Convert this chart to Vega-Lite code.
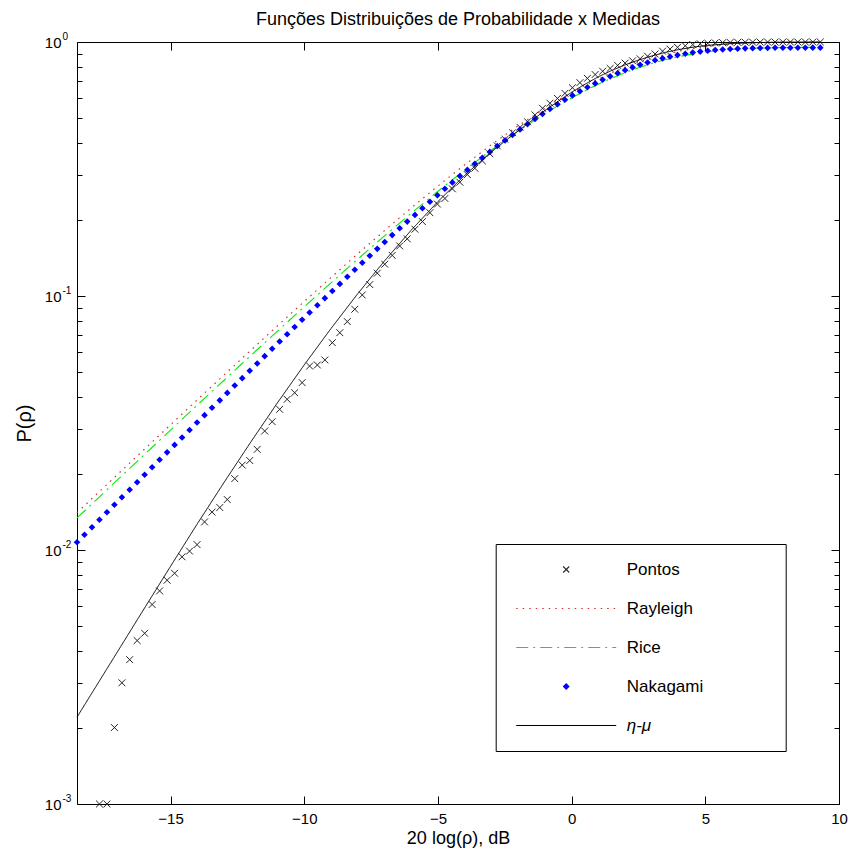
{
  "$schema": "https://vega.github.io/schema/vega-lite/v6.json",
  "width": 762,
  "height": 762,
  "autosize": {"type": "none"},
  "padding": {"left": 77, "top": 42, "right": 11, "bottom": 55},
  "background": "white",
  "title": {
    "text": "Funções Distribuições de Probabilidade x Medidas",
    "fontSize": 18,
    "fontWeight": "normal",
    "font": "Liberation Sans",
    "color": "#000",
    "offset": 2
  },
  "datasets": {
    "pontos": [
      {"x": -17.66, "p": 0.001, "serie": "Pontos"},
      {"x": -17.38, "p": 0.001, "serie": "Pontos"},
      {"x": -17.10, "p": 0.002, "serie": "Pontos"},
      {"x": -16.82, "p": 0.003, "serie": "Pontos"},
      {"x": -16.53, "p": 0.0037, "serie": "Pontos"},
      {"x": -16.25, "p": 0.0044, "serie": "Pontos"},
      {"x": -15.97, "p": 0.0047, "serie": "Pontos"},
      {"x": -15.69, "p": 0.0061, "serie": "Pontos"},
      {"x": -15.41, "p": 0.0069, "serie": "Pontos"},
      {"x": -15.13, "p": 0.0076, "serie": "Pontos"},
      {"x": -14.85, "p": 0.0081, "serie": "Pontos"},
      {"x": -14.57, "p": 0.0094, "serie": "Pontos"},
      {"x": -14.29, "p": 0.0099, "serie": "Pontos"},
      {"x": -14.01, "p": 0.0105, "serie": "Pontos"},
      {"x": -13.73, "p": 0.0129, "serie": "Pontos"},
      {"x": -13.45, "p": 0.0141, "serie": "Pontos"},
      {"x": -13.16, "p": 0.0147, "serie": "Pontos"},
      {"x": -12.88, "p": 0.0158, "serie": "Pontos"},
      {"x": -12.60, "p": 0.0191, "serie": "Pontos"},
      {"x": -12.32, "p": 0.0216, "serie": "Pontos"},
      {"x": -12.04, "p": 0.0225, "serie": "Pontos"},
      {"x": -11.76, "p": 0.0249, "serie": "Pontos"},
      {"x": -11.48, "p": 0.0294, "serie": "Pontos"},
      {"x": -11.20, "p": 0.0320, "serie": "Pontos"},
      {"x": -10.92, "p": 0.0358, "serie": "Pontos"},
      {"x": -10.64, "p": 0.0392, "serie": "Pontos"},
      {"x": -10.36, "p": 0.0416, "serie": "Pontos"},
      {"x": -10.08, "p": 0.0456, "serie": "Pontos"},
      {"x": -9.80, "p": 0.0530, "serie": "Pontos"},
      {"x": -9.51, "p": 0.0535, "serie": "Pontos"},
      {"x": -9.23, "p": 0.0560, "serie": "Pontos"},
      {"x": -8.95, "p": 0.0655, "serie": "Pontos"},
      {"x": -8.67, "p": 0.0717, "serie": "Pontos"},
      {"x": -8.39, "p": 0.0793, "serie": "Pontos"},
      {"x": -8.11, "p": 0.0887, "serie": "Pontos"},
      {"x": -7.83, "p": 0.1009, "serie": "Pontos"},
      {"x": -7.55, "p": 0.1109, "serie": "Pontos"},
      {"x": -7.27, "p": 0.1230, "serie": "Pontos"},
      {"x": -6.99, "p": 0.1334, "serie": "Pontos"},
      {"x": -6.71, "p": 0.1445, "serie": "Pontos"},
      {"x": -6.43, "p": 0.1574, "serie": "Pontos"},
      {"x": -6.15, "p": 0.1679, "serie": "Pontos"},
      {"x": -5.86, "p": 0.1832, "serie": "Pontos"},
      {"x": -5.58, "p": 0.1963, "serie": "Pontos"},
      {"x": -5.30, "p": 0.2128, "serie": "Pontos"},
      {"x": -5.02, "p": 0.2301, "serie": "Pontos"},
      {"x": -4.74, "p": 0.2421, "serie": "Pontos"},
      {"x": -4.46, "p": 0.2642, "serie": "Pontos"},
      {"x": -4.18, "p": 0.2805, "serie": "Pontos"},
      {"x": -3.90, "p": 0.3006, "serie": "Pontos"},
      {"x": -3.62, "p": 0.3184, "serie": "Pontos"},
      {"x": -3.34, "p": 0.3404, "serie": "Pontos"},
      {"x": -3.06, "p": 0.3631, "serie": "Pontos"},
      {"x": -2.78, "p": 0.3899, "serie": "Pontos"},
      {"x": -2.49, "p": 0.4140, "serie": "Pontos"},
      {"x": -2.21, "p": 0.4395, "serie": "Pontos"},
      {"x": -1.93, "p": 0.4613, "serie": "Pontos"},
      {"x": -1.65, "p": 0.4853, "serie": "Pontos"},
      {"x": -1.37, "p": 0.5164, "serie": "Pontos"},
      {"x": -1.09, "p": 0.5483, "serie": "Pontos"},
      {"x": -0.81, "p": 0.5741, "serie": "Pontos"},
      {"x": -0.53, "p": 0.5998, "serie": "Pontos"},
      {"x": -0.25, "p": 0.6281, "serie": "Pontos"},
      {"x": 0.03, "p": 0.6607, "serie": "Pontos"},
      {"x": 0.31, "p": 0.6918, "serie": "Pontos"},
      {"x": 0.59, "p": 0.7194, "serie": "Pontos"},
      {"x": 0.88, "p": 0.7447, "serie": "Pontos"},
      {"x": 1.16, "p": 0.7674, "serie": "Pontos"},
      {"x": 1.44, "p": 0.7870, "serie": "Pontos"},
      {"x": 1.72, "p": 0.8091, "serie": "Pontos"},
      {"x": 2.00, "p": 0.8260, "serie": "Pontos"},
      {"x": 2.28, "p": 0.8433, "serie": "Pontos"},
      {"x": 2.56, "p": 0.8590, "serie": "Pontos"},
      {"x": 2.84, "p": 0.8790, "serie": "Pontos"},
      {"x": 3.12, "p": 0.8974, "serie": "Pontos"},
      {"x": 3.40, "p": 0.9204, "serie": "Pontos"},
      {"x": 3.68, "p": 0.9376, "serie": "Pontos"},
      {"x": 3.96, "p": 0.9528, "serie": "Pontos"},
      {"x": 4.25, "p": 0.9661, "serie": "Pontos"},
      {"x": 4.53, "p": 0.9772, "serie": "Pontos"},
      {"x": 4.81, "p": 0.9840, "serie": "Pontos"},
      {"x": 5.09, "p": 0.9886, "serie": "Pontos"},
      {"x": 5.37, "p": 0.9920, "serie": "Pontos"},
      {"x": 5.65, "p": 0.9943, "serie": "Pontos"},
      {"x": 5.93, "p": 0.9959, "serie": "Pontos"},
      {"x": 6.21, "p": 0.9970, "serie": "Pontos"},
      {"x": 6.49, "p": 0.9979, "serie": "Pontos"},
      {"x": 6.77, "p": 0.9985, "serie": "Pontos"},
      {"x": 7.05, "p": 0.9989, "serie": "Pontos"},
      {"x": 7.33, "p": 0.9992, "serie": "Pontos"},
      {"x": 7.61, "p": 0.9994, "serie": "Pontos"},
      {"x": 7.90, "p": 0.9996, "serie": "Pontos"},
      {"x": 8.18, "p": 0.9997, "serie": "Pontos"},
      {"x": 8.46, "p": 0.9998, "serie": "Pontos"},
      {"x": 8.74, "p": 0.9999, "serie": "Pontos"},
      {"x": 9.02, "p": 0.9999, "serie": "Pontos"},
      {"x": 9.30, "p": 1.0, "serie": "Pontos"}
    ],
    "rayleigh": [
      {"x": -18.5, "p": 0.01403, "serie": "Rayleigh"},
      {"x": -18, "p": 0.01572, "serie": "Rayleigh"},
      {"x": -17, "p": 0.01976, "serie": "Rayleigh"},
      {"x": -16, "p": 0.02481, "serie": "Rayleigh"},
      {"x": -15, "p": 0.03113, "serie": "Rayleigh"},
      {"x": -14, "p": 0.03903, "serie": "Rayleigh"},
      {"x": -13, "p": 0.04888, "serie": "Rayleigh"},
      {"x": -12, "p": 0.06115, "serie": "Rayleigh"},
      {"x": -11, "p": 0.07636, "serie": "Rayleigh"},
      {"x": -10, "p": 0.09516, "serie": "Rayleigh"},
      {"x": -9, "p": 0.1183, "serie": "Rayleigh"},
      {"x": -8, "p": 0.1466, "serie": "Rayleigh"},
      {"x": -7, "p": 0.1809, "serie": "Rayleigh"},
      {"x": -6, "p": 0.2221, "serie": "Rayleigh"},
      {"x": -5, "p": 0.2711, "serie": "Rayleigh"},
      {"x": -4, "p": 0.3284, "serie": "Rayleigh"},
      {"x": -3, "p": 0.3942, "serie": "Rayleigh"},
      {"x": -2, "p": 0.4679, "serie": "Rayleigh"},
      {"x": -1, "p": 0.5481, "serie": "Rayleigh"},
      {"x": -0.5, "p": 0.5899, "serie": "Rayleigh"},
      {"x": 0, "p": 0.6321, "serie": "Rayleigh"},
      {"x": 0.5, "p": 0.6744, "serie": "Rayleigh"},
      {"x": 1, "p": 0.7160, "serie": "Rayleigh"},
      {"x": 1.5, "p": 0.7565, "serie": "Rayleigh"},
      {"x": 2, "p": 0.7950, "serie": "Rayleigh"},
      {"x": 2.5, "p": 0.8310, "serie": "Rayleigh"},
      {"x": 3, "p": 0.8640, "serie": "Rayleigh"},
      {"x": 3.5, "p": 0.8934, "serie": "Rayleigh"},
      {"x": 4, "p": 0.9189, "serie": "Rayleigh"},
      {"x": 4.5, "p": 0.9403, "serie": "Rayleigh"},
      {"x": 5, "p": 0.9577, "serie": "Rayleigh"},
      {"x": 5.5, "p": 0.9712, "serie": "Rayleigh"},
      {"x": 6, "p": 0.9813, "serie": "Rayleigh"},
      {"x": 6.5, "p": 0.9885, "serie": "Rayleigh"},
      {"x": 7, "p": 0.9933, "serie": "Rayleigh"},
      {"x": 8, "p": 0.9982, "serie": "Rayleigh"},
      {"x": 9, "p": 0.9996, "serie": "Rayleigh"},
      {"x": 9.3, "p": 0.9998, "serie": "Rayleigh"}
    ],
    "rice": [
      {"x": -18.5, "p": 0.01337, "serie": "Rice"},
      {"x": -18, "p": 0.01498, "serie": "Rice"},
      {"x": -17, "p": 0.01883, "serie": "Rice"},
      {"x": -16, "p": 0.02364, "serie": "Rice"},
      {"x": -15, "p": 0.02967, "serie": "Rice"},
      {"x": -14, "p": 0.03720, "serie": "Rice"},
      {"x": -13, "p": 0.04658, "serie": "Rice"},
      {"x": -12, "p": 0.05828, "serie": "Rice"},
      {"x": -11, "p": 0.07277, "serie": "Rice"},
      {"x": -10, "p": 0.09069, "serie": "Rice"},
      {"x": -9, "p": 0.1127, "serie": "Rice"},
      {"x": -8, "p": 0.1397, "serie": "Rice"},
      {"x": -7, "p": 0.1724, "serie": "Rice"},
      {"x": -6, "p": 0.2117, "serie": "Rice"},
      {"x": -5, "p": 0.2584, "serie": "Rice"},
      {"x": -4, "p": 0.3130, "serie": "Rice"},
      {"x": -3, "p": 0.3757, "serie": "Rice"},
      {"x": -2, "p": 0.4459, "serie": "Rice"},
      {"x": -1, "p": 0.5223, "serie": "Rice"},
      {"x": -0.5, "p": 0.5622, "serie": "Rice"},
      {"x": 0, "p": 0.6024, "serie": "Rice"},
      {"x": 0.5, "p": 0.6427, "serie": "Rice"},
      {"x": 1, "p": 0.6823, "serie": "Rice"},
      {"x": 1.5, "p": 0.7209, "serie": "Rice"},
      {"x": 2, "p": 0.7576, "serie": "Rice"},
      {"x": 2.5, "p": 0.7919, "serie": "Rice"},
      {"x": 3, "p": 0.8234, "serie": "Rice"},
      {"x": 3.5, "p": 0.8514, "serie": "Rice"},
      {"x": 4, "p": 0.8757, "serie": "Rice"},
      {"x": 4.5, "p": 0.8961, "serie": "Rice"},
      {"x": 5, "p": 0.9127, "serie": "Rice"},
      {"x": 5.5, "p": 0.9256, "serie": "Rice"},
      {"x": 6, "p": 0.9352, "serie": "Rice"},
      {"x": 6.5, "p": 0.9420, "serie": "Rice"},
      {"x": 7, "p": 0.9466, "serie": "Rice"},
      {"x": 8, "p": 0.9513, "serie": "Rice"},
      {"x": 9, "p": 0.9526, "serie": "Rice"},
      {"x": 9.3, "p": 0.9528, "serie": "Rice"}
    ],
    "nakagami": [
      {"x": -18.50, "p": 0.01073, "serie": "Nakagami"},
      {"x": -18.22, "p": 0.01148, "serie": "Nakagami"},
      {"x": -17.94, "p": 0.01229, "serie": "Nakagami"},
      {"x": -17.66, "p": 0.01316, "serie": "Nakagami"},
      {"x": -17.38, "p": 0.01408, "serie": "Nakagami"},
      {"x": -17.10, "p": 0.01508, "serie": "Nakagami"},
      {"x": -16.82, "p": 0.01613, "serie": "Nakagami"},
      {"x": -16.53, "p": 0.01727, "serie": "Nakagami"},
      {"x": -16.25, "p": 0.01848, "serie": "Nakagami"},
      {"x": -15.97, "p": 0.01978, "serie": "Nakagami"},
      {"x": -15.69, "p": 0.02117, "serie": "Nakagami"},
      {"x": -15.41, "p": 0.02265, "serie": "Nakagami"},
      {"x": -15.13, "p": 0.02424, "serie": "Nakagami"},
      {"x": -14.85, "p": 0.02593, "serie": "Nakagami"},
      {"x": -14.57, "p": 0.02774, "serie": "Nakagami"},
      {"x": -14.29, "p": 0.02968, "serie": "Nakagami"},
      {"x": -14.01, "p": 0.03175, "serie": "Nakagami"},
      {"x": -13.73, "p": 0.03396, "serie": "Nakagami"},
      {"x": -13.45, "p": 0.03632, "serie": "Nakagami"},
      {"x": -13.16, "p": 0.03884, "serie": "Nakagami"},
      {"x": -12.88, "p": 0.04154, "serie": "Nakagami"},
      {"x": -12.60, "p": 0.04441, "serie": "Nakagami"},
      {"x": -12.32, "p": 0.04748, "serie": "Nakagami"},
      {"x": -12.04, "p": 0.05076, "serie": "Nakagami"},
      {"x": -11.76, "p": 0.05425, "serie": "Nakagami"},
      {"x": -11.48, "p": 0.05798, "serie": "Nakagami"},
      {"x": -11.20, "p": 0.06196, "serie": "Nakagami"},
      {"x": -10.92, "p": 0.06619, "serie": "Nakagami"},
      {"x": -10.64, "p": 0.07071, "serie": "Nakagami"},
      {"x": -10.36, "p": 0.07552, "serie": "Nakagami"},
      {"x": -10.08, "p": 0.08064, "serie": "Nakagami"},
      {"x": -9.80, "p": 0.08609, "serie": "Nakagami"},
      {"x": -9.51, "p": 0.09190, "serie": "Nakagami"},
      {"x": -9.23, "p": 0.09806, "serie": "Nakagami"},
      {"x": -8.95, "p": 0.1046, "serie": "Nakagami"},
      {"x": -8.67, "p": 0.1116, "serie": "Nakagami"},
      {"x": -8.39, "p": 0.1190, "serie": "Nakagami"},
      {"x": -8.11, "p": 0.1268, "serie": "Nakagami"},
      {"x": -7.83, "p": 0.1352, "serie": "Nakagami"},
      {"x": -7.55, "p": 0.1440, "serie": "Nakagami"},
      {"x": -7.27, "p": 0.1533, "serie": "Nakagami"},
      {"x": -6.99, "p": 0.1632, "serie": "Nakagami"},
      {"x": -6.71, "p": 0.1737, "serie": "Nakagami"},
      {"x": -6.43, "p": 0.1847, "serie": "Nakagami"},
      {"x": -6.15, "p": 0.1963, "serie": "Nakagami"},
      {"x": -5.86, "p": 0.2086, "serie": "Nakagami"},
      {"x": -5.58, "p": 0.2216, "serie": "Nakagami"},
      {"x": -5.30, "p": 0.2351, "serie": "Nakagami"},
      {"x": -5.02, "p": 0.2494, "serie": "Nakagami"},
      {"x": -4.74, "p": 0.2644, "serie": "Nakagami"},
      {"x": -4.46, "p": 0.2800, "serie": "Nakagami"},
      {"x": -4.18, "p": 0.2966, "serie": "Nakagami"},
      {"x": -3.90, "p": 0.3136, "serie": "Nakagami"},
      {"x": -3.62, "p": 0.3315, "serie": "Nakagami"},
      {"x": -3.34, "p": 0.3501, "serie": "Nakagami"},
      {"x": -3.06, "p": 0.3693, "serie": "Nakagami"},
      {"x": -2.78, "p": 0.3893, "serie": "Nakagami"},
      {"x": -2.49, "p": 0.4098, "serie": "Nakagami"},
      {"x": -2.21, "p": 0.4310, "serie": "Nakagami"},
      {"x": -1.93, "p": 0.4528, "serie": "Nakagami"},
      {"x": -1.65, "p": 0.4751, "serie": "Nakagami"},
      {"x": -1.37, "p": 0.4979, "serie": "Nakagami"},
      {"x": -1.09, "p": 0.5211, "serie": "Nakagami"},
      {"x": -0.81, "p": 0.5446, "serie": "Nakagami"},
      {"x": -0.53, "p": 0.5684, "serie": "Nakagami"},
      {"x": -0.25, "p": 0.5924, "serie": "Nakagami"},
      {"x": 0.03, "p": 0.6163, "serie": "Nakagami"},
      {"x": 0.31, "p": 0.6401, "serie": "Nakagami"},
      {"x": 0.59, "p": 0.6638, "serie": "Nakagami"},
      {"x": 0.88, "p": 0.6872, "serie": "Nakagami"},
      {"x": 1.16, "p": 0.7100, "serie": "Nakagami"},
      {"x": 1.44, "p": 0.7324, "serie": "Nakagami"},
      {"x": 1.72, "p": 0.7539, "serie": "Nakagami"},
      {"x": 2.00, "p": 0.7747, "serie": "Nakagami"},
      {"x": 2.28, "p": 0.7945, "serie": "Nakagami"},
      {"x": 2.56, "p": 0.8133, "serie": "Nakagami"},
      {"x": 2.84, "p": 0.8309, "serie": "Nakagami"},
      {"x": 3.12, "p": 0.8472, "serie": "Nakagami"},
      {"x": 3.40, "p": 0.8622, "serie": "Nakagami"},
      {"x": 3.68, "p": 0.8758, "serie": "Nakagami"},
      {"x": 3.96, "p": 0.8881, "serie": "Nakagami"},
      {"x": 4.25, "p": 0.8990, "serie": "Nakagami"},
      {"x": 4.53, "p": 0.9085, "serie": "Nakagami"},
      {"x": 4.81, "p": 0.9168, "serie": "Nakagami"},
      {"x": 5.09, "p": 0.9238, "serie": "Nakagami"},
      {"x": 5.37, "p": 0.9297, "serie": "Nakagami"},
      {"x": 5.65, "p": 0.9346, "serie": "Nakagami"},
      {"x": 5.93, "p": 0.9385, "serie": "Nakagami"},
      {"x": 6.21, "p": 0.9416, "serie": "Nakagami"},
      {"x": 6.49, "p": 0.9440, "serie": "Nakagami"},
      {"x": 6.77, "p": 0.9458, "serie": "Nakagami"},
      {"x": 7.05, "p": 0.9471, "serie": "Nakagami"},
      {"x": 7.33, "p": 0.9481, "serie": "Nakagami"},
      {"x": 7.61, "p": 0.9488, "serie": "Nakagami"},
      {"x": 7.90, "p": 0.9492, "serie": "Nakagami"},
      {"x": 8.18, "p": 0.9495, "serie": "Nakagami"},
      {"x": 8.46, "p": 0.9497, "serie": "Nakagami"},
      {"x": 8.74, "p": 0.9498, "serie": "Nakagami"},
      {"x": 9.02, "p": 0.9499, "serie": "Nakagami"},
      {"x": 9.30, "p": 0.9500, "serie": "Nakagami"}
    ],
    "etamu": [
      {"x": -18.5, "p": 0.002198, "serie": "η-μ"},
      {"x": -18, "p": 0.002673, "serie": "η-μ"},
      {"x": -17, "p": 0.003954, "serie": "η-μ"},
      {"x": -16, "p": 0.005848, "serie": "η-μ"},
      {"x": -15, "p": 0.008630, "serie": "η-μ"},
      {"x": -14, "p": 0.01268, "serie": "η-μ"},
      {"x": -13, "p": 0.01845, "serie": "η-μ"},
      {"x": -12, "p": 0.02661, "serie": "η-μ"},
      {"x": -11, "p": 0.03802, "serie": "η-μ"},
      {"x": -10, "p": 0.05358, "serie": "η-μ"},
      {"x": -9, "p": 0.07447, "serie": "η-μ"},
      {"x": -8, "p": 0.1021, "serie": "η-μ"},
      {"x": -7, "p": 0.1374, "serie": "η-μ"},
      {"x": -6, "p": 0.1816, "serie": "η-μ"},
      {"x": -5, "p": 0.2355, "serie": "η-μ"},
      {"x": -4, "p": 0.2985, "serie": "η-μ"},
      {"x": -3, "p": 0.3698, "serie": "η-μ"},
      {"x": -2, "p": 0.4467, "serie": "η-μ"},
      {"x": -1, "p": 0.5370, "serie": "η-μ"},
      {"x": -0.5, "p": 0.5848, "serie": "η-μ"},
      {"x": 0, "p": 0.6339, "serie": "η-μ"},
      {"x": 0.5, "p": 0.6823, "serie": "η-μ"},
      {"x": 1, "p": 0.7295, "serie": "η-μ"},
      {"x": 1.5, "p": 0.7727, "serie": "η-μ"},
      {"x": 2, "p": 0.8128, "serie": "η-μ"},
      {"x": 2.5, "p": 0.8492, "serie": "η-μ"},
      {"x": 3, "p": 0.8810, "serie": "η-μ"},
      {"x": 3.5, "p": 0.9099, "serie": "η-μ"},
      {"x": 4, "p": 0.9333, "serie": "η-μ"},
      {"x": 4.5, "p": 0.9528, "serie": "η-μ"},
      {"x": 5, "p": 0.9683, "serie": "η-μ"},
      {"x": 6, "p": 0.9863, "serie": "η-μ"},
      {"x": 7, "p": 0.9954, "serie": "η-μ"},
      {"x": 8, "p": 0.9988, "serie": "η-μ"},
      {"x": 9, "p": 0.9999, "serie": "η-μ"},
      {"x": 9.3, "p": 1.0, "serie": "η-μ"}
    ]
  },
  "resolve": {"axis": {"x": "independent", "y": "independent"}},
  "layer": [
    {
      "data": {"name": "pontos"},
      "mark": {"type": "point", "size": 130, "filled": false, "strokeWidth": 1, "opacity": 1},
      "encoding": {
        "x": {
          "field": "x", "type": "quantitative",
          "scale": {"domain": [-18.5, 10], "nice": false, "zero": false},
          "axis": {
            "orient": "bottom", "values": [-15, -10, -5, 0, 5, 10],
            "tickSize": -8, "labelPadding": 15, "labelFontSize": 15,
            "labelFlush": false, "labelOverlap": false,
            "title": "20 log(ρ), dB", "titleFontSize": 18, "titlePadding": 3
          }
        },
        "y": {
          "field": "p", "type": "quantitative",
          "scale": {"type": "log", "domain": [0.001, 1], "nice": false},
          "axis": {
            "orient": "left", "values": [0.001, 0.01, 0.1, 1],
            "tickSize": -8, "labelExpr": "'10'", "labelPadding": 24,
            "labelFontSize": 15, "labelBaseline": "middle",
            "labelFlush": false, "labelOverlap": false,
            "title": "P(ρ)", "titleFontSize": 20, "titlePadding": 10
          }
        },
        "stroke": {
          "field": "serie", "type": "nominal",
          "scale": {
            "domain": ["Pontos", "Rayleigh", "Rice", "Nakagami", "η-μ"],
            "range": ["#222222", "#d03030", "#00ee00", "transparent", "#000000"]
          },
          "legend": {
            "title": null,
            "orient": "none",
            "legendX": 418.7,
            "legendY": 502,
            "padding": 17,
            "strokeColor": "#000",
            "fillColor": "#fff",
            "labelFontSize": 17,
            "labelColor": "#000",
            "labelFont": "Liberation Sans",
            "labelFontStyle": {"expr": "datum.value === 'η-μ' ? 'italic' : 'normal'"},
            "rowPadding": 21,
            "symbolSize": 100,
            "symbolStrokeWidth": 1.2,
            "symbolOffset": 45,
            "labelOffset": 52
          }
        },
        "shape": {
          "field": "serie", "type": "nominal",
          "scale": {
            "domain": ["Pontos", "Rayleigh", "Rice", "Nakagami", "η-μ"],
            "range": [
              "M-0.6,-0.6L0.6,0.6M-0.6,0.6L0.6,-0.6",
              "M-10,0H10M40,0",
              "M-10,0H10M40,0",
              "M0,-0.7L0.7,0L0,0.7L-0.7,0Z",
              "M-10,0H10M40,0"
            ]
          },
          "legend": {"title": null}
        }
      }
    },
    {
      "data": {"name": "rayleigh"},
      "mark": {"type": "line", "strokeWidth": 1.2},
      "encoding": {
        "x": {
          "field": "x", "type": "quantitative",
          "scale": {"domain": [-18.5, 10], "nice": false, "zero": false},
          "axis": {"orient": "top", "values": [-15, -10, -5, 0, 5, 10], "tickSize": -8, "labels": false, "title": null}
        },
        "y": {
          "field": "p", "type": "quantitative",
          "scale": {"type": "log", "domain": [0.001, 1], "nice": false},
          "axis": {"orient": "right", "values": [0.001, 0.01, 0.1, 1], "tickSize": -8, "labels": false, "title": null}
        },
        "stroke": {"field": "serie", "type": "nominal", "legend": {"title": null}},
        "strokeDash": {
          "field": "serie", "type": "nominal",
          "scale": {
            "domain": ["Pontos", "Rayleigh", "Rice", "Nakagami", "η-μ"],
            "range": [[1, 0], [1.5, 5], [12, 5, 2, 5], [1, 0], [1, 0]]
          },
          "legend": {"title": null}
        }
      }
    },
    {
      "data": {"name": "rice"},
      "mark": {"type": "line", "strokeWidth": 1.1},
      "encoding": {
        "x": {"field": "x", "type": "quantitative", "axis": null},
        "y": {
          "field": "p", "type": "quantitative",
          "axis": {
            "orient": "left",
            "values": [0.002, 0.003, 0.004, 0.005, 0.006, 0.007, 0.008, 0.009, 0.02, 0.03, 0.04, 0.05, 0.06, 0.07, 0.08, 0.09, 0.2, 0.3, 0.4, 0.5, 0.6, 0.7, 0.8, 0.9],
            "tickSize": -5, "labels": false, "title": null
          }
        },
        "stroke": {"field": "serie", "type": "nominal", "legend": {"title": null}},
        "strokeDash": {"field": "serie", "type": "nominal", "legend": {"title": null}}
      }
    },
    {
      "data": {"name": "nakagami"},
      "mark": {"type": "point", "size": 89, "filled": true, "opacity": 1},
      "encoding": {
        "x": {"field": "x", "type": "quantitative", "axis": null},
        "y": {
          "field": "p", "type": "quantitative",
          "axis": {
            "orient": "right",
            "values": [0.002, 0.003, 0.004, 0.005, 0.006, 0.007, 0.008, 0.009, 0.02, 0.03, 0.04, 0.05, 0.06, 0.07, 0.08, 0.09, 0.2, 0.3, 0.4, 0.5, 0.6, 0.7, 0.8, 0.9],
            "tickSize": -5, "labels": false, "title": null
          }
        },
        "fill": {
          "field": "serie", "type": "nominal",
          "scale": {
            "domain": ["Pontos", "Rayleigh", "Rice", "Nakagami", "η-μ"],
            "range": ["transparent", "transparent", "transparent", "#0000ff", "transparent"]
          },
          "legend": {"title": null}
        },
        "shape": {"field": "serie", "type": "nominal", "legend": {"title": null}}
      }
    },
    {
      "data": {"name": "etamu"},
      "mark": {"type": "line", "strokeWidth": 1},
      "encoding": {
        "x": {"field": "x", "type": "quantitative", "axis": null},
        "y": {
          "field": "p", "type": "quantitative",
          "axis": {
            "orient": "left", "values": [0.001, 0.01, 0.1, 1],
            "ticks": false,
            "labelExpr": "'' + round(log(datum.value) / LN10)",
            "labelAlign": "left", "labelBaseline": "middle",
            "labelPadding": 15, "labelOffset": -6, "labelFontSize": 10,
            "labelFlush": false, "labelOverlap": false,
            "title": null
          }
        },
        "stroke": {"field": "serie", "type": "nominal", "legend": {"title": null}},
        "strokeDash": {"field": "serie", "type": "nominal", "legend": {"title": null}}
      }
    }
  ],
  "config": {
    "font": "Liberation Sans",
    "view": {"stroke": "#000", "strokeWidth": 1},
    "axis": {
      "grid": false,
      "domain": false,
      "tickColor": "#000",
      "tickWidth": 1,
      "labelColor": "#000",
      "labelFont": "Liberation Sans",
      "titleFont": "Liberation Sans",
      "titleColor": "#000",
      "titleFontWeight": "normal"
    }
  }
}
